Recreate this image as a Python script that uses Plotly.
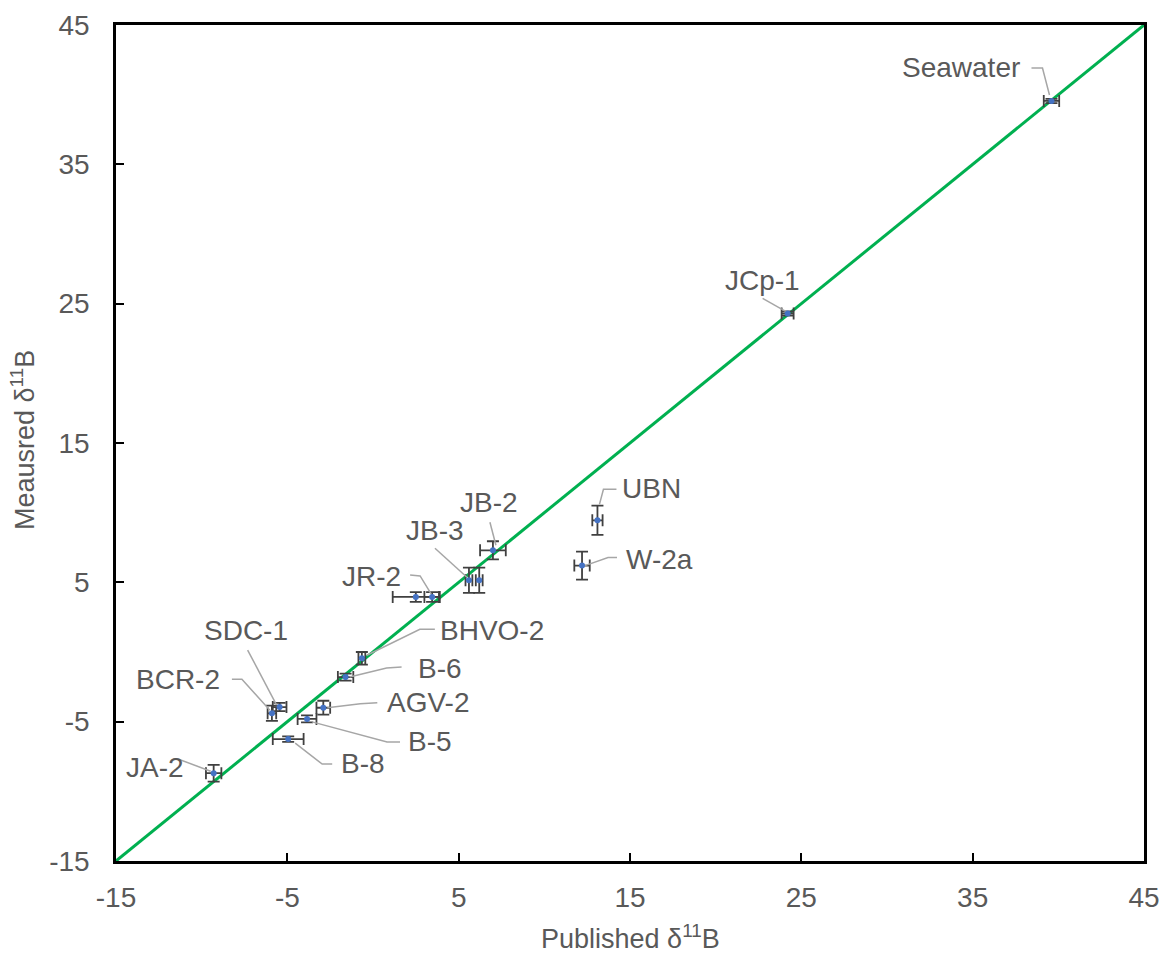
import plotly.graph_objects as go

# ---------------- data ----------------
point_sample = ["Seawater", "JCp-1", "UBN", "W-2a", "JB-2", "JB-3", "JB-3", "JR-2", "JR-2",
                "BHVO-2", "B-6", "AGV-2", "B-5", "B-8", "SDC-1", "BCR-2", "JA-2"]
published = [39.6, 24.2, 13.1, 12.2, 7.0, 5.6, 6.2, 2.5, 3.45,
             -0.65, -1.6, -2.9, -3.85, -4.95, -5.45, -5.9, -9.3]
measured = [39.55, 24.3, 9.45, 6.2, 7.3, 5.15, 5.15, 3.95, 3.95,
            -0.45, -1.8, -4.0, -4.8, -6.25, -3.95, -4.4, -8.7]
published_err = [0.45, 0.35, 0.3, 0.45, 0.75, 0.2, 0.2, 1.35, 0.45,
                 0.2, 0.45, 0.4, 0.55, 0.9, 0.4, 0.25, 0.45]
measured_err = [0.15, 0.15, 1.05, 1.0, 0.65, 0.9, 0.9, 0.35, 0.35,
                0.45, 0.25, 0.5, 0.25, 0.2, 0.3, 0.55, 0.6]
one_to_one = [-15, 45]
tick_values = [-15, -5, 5, 15, 25, 35, 45]
tick_labels = ["-15", "-5", "5", "15", "25", "35", "45"]

# ---------------- label layout (pixel offsets from anchor point) ----------------
label_anchor = {"Seawater": 0, "JCp-1": 1, "UBN": 2, "W-2a": 3, "JB-2": 4, "JB-3": 5,
                "JR-2": 8, "BHVO-2": 9, "B-6": 10, "AGV-2": 11, "B-5": 12, "B-8": 13,
                "SDC-1": 14, "BCR-2": 15, "JA-2": 16}
label_text_off = {"Seawater": (-90, -33), "JCp-1": (-25, -33), "UBN": (54, -32), "W-2a": (77, -6),
                  "JB-2": (-4, -48), "JB-3": (-34, -50), "JR-2": (-61, -20), "BHVO-2": (130, -28),
                  "B-6": (94, -9), "AGV-2": (105, -5), "B-5": (123, 23), "B-8": (75, 24),
                  "SDC-1": (-34, -77), "BCR-2": (-94, -34), "JA-2": (-59, -6)}
label_leader = {"Seawater": [(-20, -33), (-9, -33), (-2, -6)],
                "JCp-1": [(-25, -15), (-2, -2)],
                "UBN": [(19, -31), (6, -31), (2, -16)],
                "W-2a": [(35, -8), (26, -8), (3, 0)],
                "JB-2": [(-3, -28), (3, -5)],
                "JB-3": [(-34, -32), (-2, -3)],
                "JR-2": [(-22, -22), (-12, -21), (-1, -3)],
                "BHVO-2": [(73, -29), (58, -29), (5, -3)],
                "B-6": [(56, -10), (41, -9), (4, 0)],
                "AGV-2": [(54, -5), (37, -4), (4, 0)],
                "B-5": [(93, 23), (80, 23), (5, 3)],
                "B-8": [(44, 25), (34, 25), (7, 4)],
                "SDC-1": [(-32, -57), (-3, -2)],
                "BCR-2": [(-40, -34), (-30, -34), (-2, -3)],
                "JA-2": [(-35, -14), (-3, -2)]}

W, H = 1165, 953
ML, MR, MT, MB = 116, 21, 25, 92
XR = [-15, 45]
YR = [-15, 45]
ux = (XR[1] - XR[0]) / (W - ML - MR)
uy = (YR[1] - YR[0]) / (H - MT - MB)

FONT = "Arial, 'Liberation Sans', sans-serif"
TXT = "#595959"

fig = go.Figure()

fig.add_trace(go.Scatter(x=one_to_one, y=one_to_one, mode="lines",
                         line=dict(color="#00B050", width=3), hoverinfo="skip", showlegend=False))

fig.add_trace(go.Scatter(
    x=published, y=measured, mode="markers",
    marker=dict(color="#4472C4", size=6),
    error_x=dict(type="data", array=published_err, visible=True, color="#404040", thickness=1.8, width=6),
    error_y=dict(type="data", array=measured_err, visible=True, color="#404040", thickness=1.8, width=6),
    text=point_sample, showlegend=False))

shapes = []
annotations = []
for name, idx in label_anchor.items():
    px, py = published[idx], measured[idx]
    dx, dy = label_text_off[name]
    annotations.append(dict(x=px, y=py, xref="x", yref="y", xshift=dx, yshift=-dy,
                            text=name, showarrow=False, xanchor="center", yanchor="middle",
                            font=dict(family=FONT, size=28, color=TXT)))
    pts = [(px + ox * ux, py - oy * uy) for ox, oy in label_leader[name]]
    path = "M " + " L ".join(f"{a},{b}" for a, b in pts)
    shapes.append(dict(type="path", xref="x", yref="y", path=path,
                       line=dict(color="#A6A6A6", width=1.5)))

# axis titles as annotations for exact placement
annotations.append(dict(x=0.5, y=0, xref="paper", yref="paper", yshift=-76,
                        text="Published δ<sup>11</sup>B", showarrow=False,
                        xanchor="center", yanchor="middle",
                        font=dict(family=FONT, size=27, color=TXT)))
annotations.append(dict(x=0, y=0.5, xref="paper", yref="paper", xshift=-93, yshift=3,
                        text="Meausred δ<sup>11</sup>B", showarrow=False, textangle=-90,
                        xanchor="center", yanchor="middle",
                        font=dict(family=FONT, size=27, color=TXT)))

axis_common = dict(range=XR, tickvals=tick_values, ticktext=tick_labels, ticks="inside",
                   ticklen=8, tickwidth=2, tickcolor="black", showline=True, linecolor="black",
                   linewidth=2.5, mirror=True, showgrid=False, zeroline=False, automargin=False,
                   tickfont=dict(family=FONT, size=28, color=TXT))

fig.update_layout(
    width=W, height=H,
    margin=dict(l=ML, r=MR, t=MT, b=MB),
    paper_bgcolor="white", plot_bgcolor="white",
    xaxis=dict(**axis_common, ticklabelstandoff=10),
    yaxis=dict(**{**axis_common, "range": YR}, ticklabelstandoff=18),
    shapes=shapes, annotations=annotations,
)

fig.write_html("out.html", config={"displayModeBar": False},
               post_script="document.body.style.margin='0';document.body.style.overflow='hidden';")
